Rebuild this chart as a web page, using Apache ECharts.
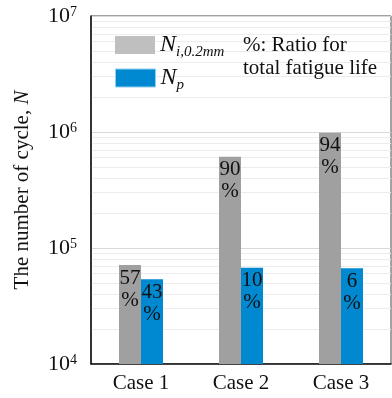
<!DOCTYPE html>
<html><head><meta charset="utf-8">
<script src="https://cdn.jsdelivr.net/npm/echarts@6/dist/echarts.min.js"></script>
<style>html,body{margin:0;padding:0;background:#fff}#c{width:392px;height:398px}</style>
</head><body><div id="c"></div>
<script>
const categories = ['Case 1', 'Case 2', 'Case 3'];
const initiationLife = [71300, 612000, 986000];
const propagationLife = [53700, 67600, 66800];
const ratioInitiation = [57, 90, 94];
const ratioPropagation = [43, 10, 6];
const yTickExponents = {10000: 4, 100000: 5, 1000000: 6, 10000000: 7};
const minorGridValues = [2e4,3e4,4e4,5e4,6e4,7e4,8e4,9e4,2e5,3e5,4e5,5e5,6e5,7e5,8e5,9e5,2e6,3e6,4e6,5e6,6e6,7e6,8e6,9e6];

const serif = '"Liberation Serif", "Times New Roman", serif';
const chart = echarts.init(document.getElementById('c'));
const barLabel = (ratios) => ({
  show: true, position: 'insideTop', distance: 2,
  fontFamily: serif, fontSize: 21, lineHeight: 22, color: '#111',
  formatter: p => ratios[p.dataIndex] + '\n%'
});
const legendRich = {
  n: {fontFamily: serif, fontStyle: 'italic', fontSize: 24, color: '#111', verticalAlign: 'top', lineHeight: 24},
  s: {fontFamily: serif, fontStyle: 'italic', fontSize: 15, color: '#111', verticalAlign: 'top', lineHeight: 15, padding: [12, 0, 0, 0]}
};
chart.setOption({
  animation: false,
  grid: {left: 91, top: 16, right: 1, bottom: 34, show: true, borderColor: '#444', borderWidth: 1},
  legend: [
    {left: 110, top: 28, itemWidth: 40, itemHeight: 18, itemGap: 10, icon: 'rect', z: 10,
     data: [{name: 'Ni', icon: 'rect', itemStyle: {color: '#bfbfbf'}}],
     formatter: () => '{n|N}{s|i,0.2mm}', textStyle: {rich: legendRich, padding: [0, 0, 0, 0]}},
    {left: 110, top: 61, itemWidth: 40, itemHeight: 18, itemGap: 10, icon: 'rect', z: 10,
     data: [{name: 'Np', icon: 'rect', itemStyle: {color: '#0088d0', borderColor: '#8fd0f0', borderWidth: 1}}],
     formatter: () => '{n|N}{s|p}', textStyle: {rich: legendRich, padding: [0, 0, 0, 0]}}
  ],
  graphic: [{type: 'text', left: 243, top: 34, z: 100,
    style: {text: '%: Ratio for\ntotal fatigue life', font: '21px ' + serif, lineHeight: 23, fill: '#111'}}],
  xAxis: {type: 'category', data: categories,
    axisLine: {lineStyle: {color: '#111', width: 1.5}}, axisTick: {show: false},
    axisLabel: {fontFamily: serif, fontSize: 21, color: '#111', margin: 9}},
  yAxis: {type: 'log', logBase: 10, min: 1e4, max: 1e7,
    name: '{r|The number of cycle, }{i|N}', nameLocation: 'middle', nameGap: 58,
    nameTextStyle: {rich: {r: {fontFamily: serif, fontSize: 21, color: '#111'}, i: {fontFamily: serif, fontSize: 21, fontStyle: 'italic', color: '#111'}}},
    axisLine: {show: true, lineStyle: {color: '#111', width: 1.5}}, axisTick: {show: false},
    splitLine: {show: true, lineStyle: {color: '#d9d9d9', width: 1}},
    axisLabel: {margin: 14, formatter: v => '{b|10}{s|' + yTickExponents[Math.round(v)] + '}',
      rich: {b: {fontFamily: serif, fontSize: 22, color: '#111', lineHeight: 22, verticalAlign: 'top'},
             s: {fontFamily: serif, fontSize: 14, color: '#111', lineHeight: 14, verticalAlign: 'top'}}}},
  series: [
    {type: 'line', data: [], z: 0, silent: true,
     markLine: {silent: true, z: 0, symbol: 'none', label: {show: false}, animation: false,
       lineStyle: {color: '#ececec', type: 'solid', width: 1},
       data: minorGridValues.map(v => ({yAxis: v}))}},
    {name: 'Ni', type: 'bar', data: initiationLife, barWidth: 22, barGap: '0%', z: 3,
     itemStyle: {color: '#a0a0a0'}, label: barLabel(ratioInitiation)},
    {name: 'Np', type: 'bar', data: propagationLife, barWidth: 22, barGap: '0%', z: 3,
     itemStyle: {color: '#0088d0'}, label: barLabel(ratioPropagation)}
  ]
});
</script></body></html>
